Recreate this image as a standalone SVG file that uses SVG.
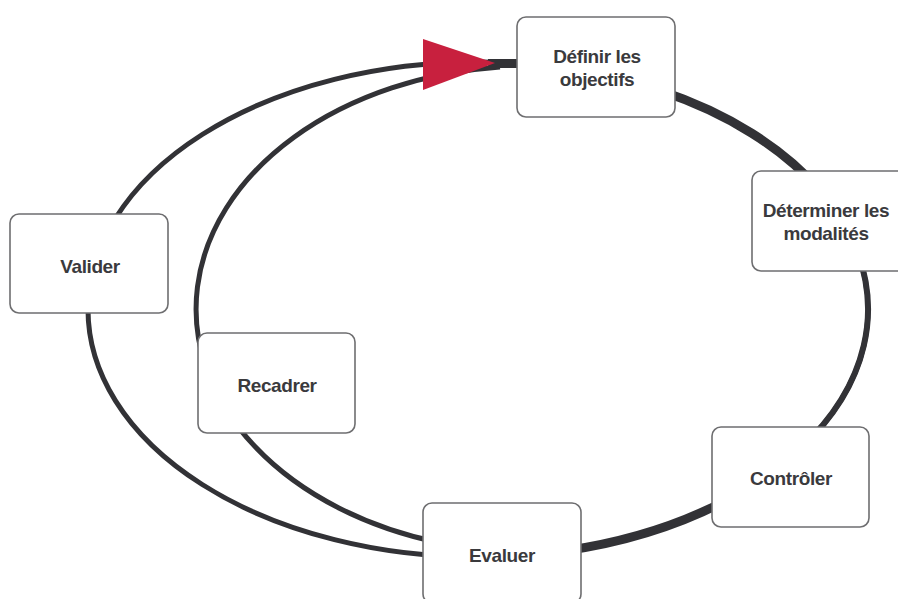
<svg xmlns="http://www.w3.org/2000/svg" width="898" height="599" viewBox="0 0 898 599">
<style>
.ln{fill:none;stroke:#323236;stroke-linecap:butt}
.box{fill:#ffffff;stroke:#6e6e70;stroke-width:1.6}
.t{font-family:"Liberation Sans",Arial,sans-serif;font-weight:bold;font-size:19px;fill:#3a3a3d;text-anchor:middle;letter-spacing:-0.4px}
</style>
<rect width="898" height="599" fill="#ffffff"/>
<g id="connectors">
<ellipse class="ln" cx="478" cy="309.5" rx="390" ry="247.5" stroke-width="5"/>
<path class="ln" d="M660,90.6 A390,247.5 0 0 1 820,190.6" stroke-width="9"/>
<path class="ln" d="M850,235.2 A390,247.5 0 0 1 800,449.1" stroke-width="6"/>
<path class="ln" d="M730,498.4 A390,247.5 0 0 1 565,550.8" stroke-width="9"/>
<path class="ln" d="M500,67 A335,243 0 0 0 440,542.8" stroke-width="5"/>
<path class="ln" d="M488,63.5 L522,63.5" stroke-width="9"/>
<polygon points="423,39 423,90 495,63" fill="#c8203e"/>
</g>
<g id="n-definir">
<rect class="box" x="517" y="17" width="158" height="100" rx="9"/>
<text class="t" x="597" y="63">Définir les</text>
<text class="t" x="597" y="86">objectifs</text>
</g>
<g id="n-determiner">
<rect class="box" x="752" y="171" width="158" height="100" rx="9"/>
<text class="t" x="826" y="217" letter-spacing="-0.9">Déterminer les</text>
<text class="t" x="826" y="240">modalités</text>
</g>
<g id="n-valider">
<rect class="box" x="10" y="214" width="158" height="99" rx="9"/>
<text class="t" x="90" y="273">Valider</text>
</g>
<g id="n-recadrer">
<rect class="box" x="198" y="333" width="157" height="100" rx="9"/>
<text class="t" x="277" y="392">Recadrer</text>
</g>
<g id="n-evaluer">
<rect class="box" x="423" y="503" width="158" height="100" rx="9"/>
<text class="t" x="502" y="562">Evaluer</text>
</g>
<g id="n-controler">
<rect class="box" x="712" y="427" width="157" height="100" rx="9"/>
<text class="t" x="791" y="485">Contrôler</text>
</g>
</svg>
